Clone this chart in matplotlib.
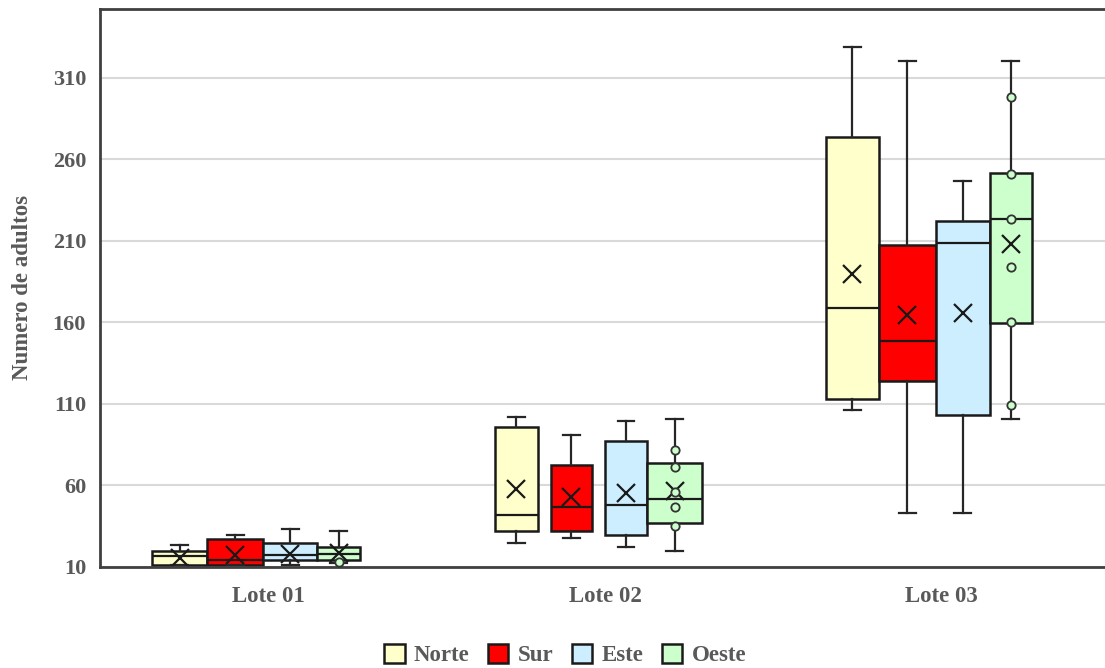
import numpy as np
import matplotlib
matplotlib.use('Agg')
import matplotlib.pyplot as plt
from matplotlib.patches import Patch

plt.rcParams['font.family'] = ['Liberation Serif', 'DejaVu Serif']
plt.rcParams['font.weight'] = 'bold'
plt.rcParams['axes.labelweight'] = 'bold'

lotes = ['Lote 01', 'Lote 02', 'Lote 03']
zonas = ['Norte', 'Sur', 'Este', 'Oeste']
colores = ['#ffffcc', '#ff0000', '#cceeff', '#ccffcc']

# resumen de cada caja, por lote y zona (Norte, Sur, Este, Oeste)
minimo = [[11, 11, 11, 12.5],
          [24.5, 27.5, 22.5, 20],
          [106.5, 43, 43, 100.5]]
q1 = [[11, 11, 14, 14.5],
      [32, 32, 29.5, 37],
      [113, 124, 103, 159.5]]
mediana = [[17, 14.5, 17.5, 18],
           [42, 47, 48, 51.5],
           [169, 148.5, 208.5, 223]]
q3 = [[20, 27, 24.5, 22],
      [96, 72.5, 87, 73.5],
      [273.5, 207.5, 222, 251.5]]
maximo = [[23.5, 29.5, 33, 32],
          [102, 91, 99.5, 100.5],
          [328.5, 320, 246.5, 320]]
media = [[15.5, 17.5, 18, 18.5],
         [57.5, 53, 55.5, 56.5],
         [189.5, 164.5, 165.5, 208]]

# puntos interiores de la serie Oeste
puntos_oeste = [[13],
                [35, 47, 56, 71, 82],
                [109, 160, 194, 223, 251, 298]]

# bordes izquierdo/derecho de cada caja respecto al centro del lote
bordes = [[(-0.345, -0.182), (-0.182, -0.015), (-0.015, 0.146), (0.146, 0.271)],
          [(-0.327, -0.199), (-0.161, -0.039), (0.0, 0.125), (0.125, 0.289)],
          [(-0.345, -0.185), (-0.185, -0.018), (-0.018, 0.143), (0.143, 0.268)]]

gris = '#595959'

fig = plt.figure(figsize=(11.05, 6.68), dpi=100)
ax = fig.add_axes([100 / 1105, 101 / 668, 1010 / 1105, 558 / 668])

for i in range(len(lotes)):
    for j in range(len(zonas)):
        x0, x1 = bordes[i][j]
        pos = i + (x0 + x1) / 2
        ancho = x1 - x0
        stats = [dict(med=mediana[i][j], q1=q1[i][j], q3=q3[i][j],
                      whislo=minimo[i][j], whishi=maximo[i][j],
                      mean=media[i][j], fliers=[])]
        ax.bxp(stats, positions=[pos], widths=[ancho], capwidths=[0.05],
               showmeans=True, patch_artist=True, manage_ticks=False,
               boxprops=dict(facecolor=colores[j], edgecolor='#1a1a1a', linewidth=1.8),
               medianprops=dict(color='#1a1a1a', linewidth=1.6),
               whiskerprops=dict(color='#262626', linewidth=1.6),
               capprops=dict(color='#262626', linewidth=1.6),
               meanprops=dict(marker='x', markersize=13, markeredgecolor='#1a1a1a',
                              markeredgewidth=1.6))
        if zonas[j] == 'Oeste':
            ax.plot([pos] * len(puntos_oeste[i]), puntos_oeste[i], 'o',
                    markersize=6, markerfacecolor='#ccffcc',
                    markeredgecolor='#333333', markeredgewidth=1.3, zorder=5)

ax.set_xlim(-0.5, 2.5)
ax.set_ylim(10, 352)
ax.set_yticks(np.arange(10, 311, 50))
ax.set_xticks(range(len(lotes)))
ax.set_xticklabels(lotes)
ax.tick_params(axis='both', length=0, labelsize=16, labelcolor=gris)
ax.tick_params(axis='y', pad=10)
ax.tick_params(axis='x', labelsize=16.5, pad=14)
ax.yaxis.grid(True, color='#d9d9d9', linewidth=1.5)
ax.set_axisbelow(True)

for s in ['left', 'bottom', 'top']:
    ax.spines[s].set_color('#404040')
    ax.spines[s].set_linewidth(2)
ax.spines['right'].set_visible(False)

ax.set_ylabel('Numero de adultos', fontsize=16.5, color=gris, fontweight='bold', labelpad=14)

handles = [Patch(facecolor=c, edgecolor='#1a1a1a', linewidth=1.8) for c in colores]
fig.legend(handles, zonas, loc='center', bbox_to_anchor=(565 / 1105, 1 - 655 / 668),
           ncol=4, frameon=False, fontsize=16.5, handlelength=0.9, handleheight=0.9,
           handletextpad=0.4, columnspacing=0.8, labelcolor=gris)

fig.savefig('out.png', dpi=100)
